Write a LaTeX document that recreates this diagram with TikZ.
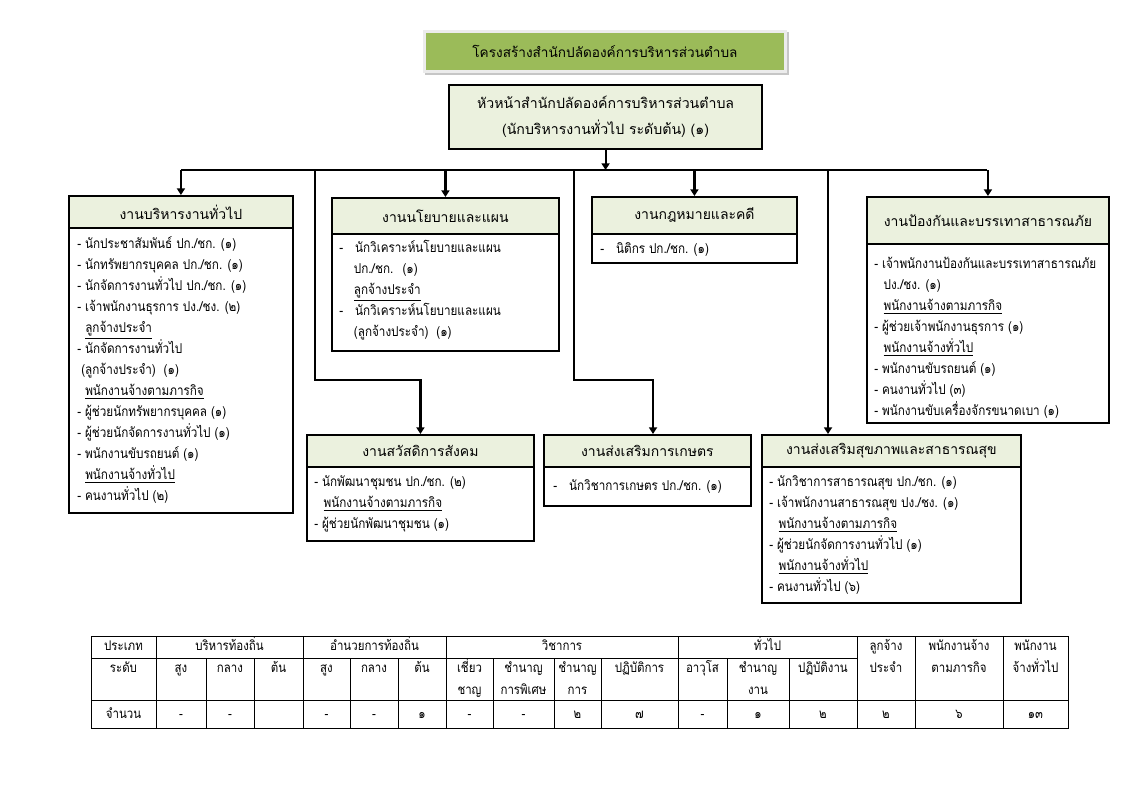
\documentclass[tikz,border=0pt]{standalone}
\usepackage{fontspec}
\newfontfamily\thaifont[Script=Thai]{Loma}
\newfontfamily\thainarrow[Script=Thai, FakeStretch=0.86]{Loma}
\usetikzlibrary{arrows.meta}
\definecolor{hdrgreen}{HTML}{EBF1DE}
\definecolor{titlegreen}{HTML}{9BBB59}
\newcommand\thul[1]{\underline{#1}}
\newcommand\orgbox[7]{%
  \node[bodyb, minimum width={(#4-#2)*0.75pt}, minimum height={(#6-#5)*0.75pt}] (#1b) at (#2,#5) {};
  \node[hdr, minimum width={(#4-#2)*0.75pt}, minimum height={(#5-#3)*0.75pt}] (#1) at (#2,#3) {#7};
}
\begin{document}
\begin{tikzpicture}[x=0.75pt,y=-0.75pt,
  hdr/.style={draw, line width=1.4pt, fill=hdrgreen, inner sep=0pt, anchor=north west, font=\thaifont\fontsize{10.5}{14}\selectfont},
  bodyb/.style={draw, line width=1.4pt, fill=white, inner sep=0pt, anchor=north west},
  btext/.style={anchor=north west, inner sep=0pt, align=left, font=\thainarrow\fontsize{10.2}{15.75}\selectfont},
  tcell/.style={anchor=base, inner sep=0pt, font=\thainarrow\fontsize{10}{12}\selectfont},
  conn/.style={line width=1.6pt},
  arr/.style={conn, -{Triangle[width=6pt,length=5pt]}},
  tline/.style={line width=0.6pt}]
\useasboundingbox (0,0) rectangle (1123,794);

% title
\fill[gray!45] (425,32) rectangle (789,75);
\node[draw=gray!15, line width=2.2pt, fill=titlegreen, anchor=north west, inner sep=0pt,
  minimum width={361*0.75pt}, minimum height={40*0.75pt},
  font=\thaifont\fontsize{10.2}{14}\selectfont] (title) at (423,30) {โครงสร้างสำนักปลัดองค์การบริหารส่วนตำบล};

% head
\node[draw, line width=1.6pt, fill=hdrgreen, anchor=north west, inner sep=0pt, align=center,
  minimum width={313*0.75pt}, minimum height={64*0.75pt},
  font=\thaifont\fontsize{10.6}{19.5}\selectfont] (head) at (448,84)
  {หัวหน้าสำนักปลัดองค์การบริหารส่วนตำบล\\(นักบริหารงานทั่วไป ระดับต้น) (๑)};

% boxes
\orgbox{h1}{68}{195}{292}{227}{512}{งานบริหารงานทั่วไป}
\orgbox{h2}{331}{197}{558}{233}{350}{งานนโยบายและแผน}
\orgbox{h3}{591}{196}{796}{233}{262}{งานกฎหมายและคดี}
\orgbox{h4}{866}{196}{1108}{243}{422}{งานป้องกันและบรรเทาสาธารณภัย}
\orgbox{h5}{306}{434}{533}{466}{540}{งานสวัสดิการสังคม}
\orgbox{h6}{543}{434}{750}{466}{505}{งานส่งเสริมการเกษตร}
\orgbox{h7}{761}{434}{1020}{466}{602}{งานส่งเสริมสุขภาพและสาธารณสุข}

% body texts
\node[btext] (t1) at (77,234) {\strut- นักประชาสัมพันธ์ ปก./ชก. (๑)\\
- นักทรัพยากรบุคคล ปก./ชก. (๑)\\
- นักจัดการงานทั่วไป ปก./ชก. (๑)\\
- เจ้าพนักงานธุรการ ปง./ชง. (๒)\\
\hspace*{6pt}\thul{ลูกจ้างประจำ}\\
- นักจัดการงานทั่วไป\\
\hspace*{3pt}(ลูกจ้างประจำ)~ (๑)\\
\hspace*{6pt}\thul{พนักงานจ้างตามภารกิจ}\\
- ผู้ช่วยนักทรัพยากรบุคคล (๑)\\
- ผู้ช่วยนักจัดการงานทั่วไป (๑)\\
- พนักงานขับรถยนต์ (๑)\\
\hspace*{6pt}\thul{พนักงานจ้างทั่วไป}\\
- คนงานทั่วไป (๒)};

\node[btext] (t2) at (339,238) {\strut-\hspace{9pt}นักวิเคราะห์นโยบายและแผน\\
\hspace*{11pt}ปก./ชก.~ (๑)\\
\hspace*{11pt}\thul{ลูกจ้างประจำ}\\
-\hspace{9pt}นักวิเคราะห์นโยบายและแผน\\
\hspace*{11pt}(ลูกจ้างประจำ)~ (๑)};

\node[btext] (t3) at (600,239) {\strut-\hspace{9pt}นิติกร ปก./ชก. (๑)};

\node[btext] (t4) at (874,254) {\strut- เจ้าพนักงานป้องกันและบรรเทาสาธารณภัย\\
\hspace*{7pt}ปง./ชง. (๑)\\
\hspace*{7pt}\thul{พนักงานจ้างตามภารกิจ}\\
- ผู้ช่วยเจ้าพนักงานธุรการ (๑)\\
\hspace*{7pt}\thul{พนักงานจ้างทั่วไป}\\
- พนักงานขับรถยนต์ (๑)\\
- คนงานทั่วไป (๓)\\
- พนักงานขับเครื่องจักรขนาดเบา (๑)};

\node[btext] (t5) at (314,472) {\strut- นักพัฒนาชุมชน ปก./ชก. (๒)\\
\hspace*{7pt}\thul{พนักงานจ้างตามภารกิจ}\\
- ผู้ช่วยนักพัฒนาชุมชน (๑)};

\node[btext] (t6) at (553,476) {\strut-\hspace{9pt}นักวิชาการเกษตร ปก./ชก. (๑)};

\node[btext] (t7) at (769,472) {\strut- นักวิชาการสาธารณสุข ปก./ชก. (๑)\\
- เจ้าพนักงานสาธารณสุข ปง./ชง. (๑)\\
\hspace*{7pt}\thul{พนักงานจ้างตามภารกิจ}\\
- ผู้ช่วยนักจัดการงานทั่วไป (๑)\\
\hspace*{7pt}\thul{พนักงานจ้างทั่วไป}\\
- คนงานทั่วไป (๖)};

% connectors
\coordinate (busL) at (181,170);
\coordinate (busR) at (987,170);
\coordinate (j5) at (315,170);
\coordinate (k5) at (315,380);
\coordinate (j6) at (574,170);
\coordinate (k6) at (653,380);
\coordinate (j7) at (828,170);
\draw[conn] (busL) -- (busR);
\draw[arr] (head.south) -- (head.south |- busL);
\draw[arr] (h1.north |- busL) -- (h1.north);
\draw[arr] (h2.north |- busL) -- (h2.north);
\draw[arr] (h3.north |- busL) -- (h3.north);
\draw[arr] (h4.north |- busL) -- (h4.north);
\draw[arr] (j5) -- (k5) -| (h5.north);
\draw[arr] (j6) |- (k6) -- (k6 |- h6.north);
\draw[arr] (j7) -- (j7 |- h7.north);

% table
\draw[tline] (91,636) rectangle (1068,728);
\draw[tline] (91,658) -- (857,658);
\draw[tline] (91,700) -- (1068,700);
\foreach \x in {156,303,446,678,857,915,1003}
  \draw[tline] (\x,636) -- (\x,728);
\foreach \x in {206,254,350,398,493,554,601,727,789}
  \draw[tline] (\x,658) -- (\x,728);

\foreach \x/\y/\t [count=\i] in {
 123.5/650/ประเภท, 229.5/650/บริหารท้องถิ่น, 374.5/650/อำนวยการท้องถิ่น, 562/650/วิชาการ, 767.5/650/ทั่วไป,
 886/650/ลูกจ้าง, 886/672/ประจำ, 959/650/พนักงานจ้าง, 959/672/ตามภารกิจ, 1035.5/650/พนักงาน, 1035.5/672/จ้างทั่วไป,
 123.5/672/ระดับ, 181/672/สูง, 230/672/กลาง, 278.5/672/ต้น, 326.5/672/สูง, 374/672/กลาง, 422/672/ต้น,
 469.5/672/เชี่ยว, 469.5/694/ชาญ, 523.5/672/ชำนาญ, 523.5/694/การพิเศษ, 577.5/672/ชำนาญ, 577.5/694/การ,
 639.5/672/ปฏิบัติการ, 702.5/672/อาวุโส, 758/672/ชำนาญ, 758/694/งาน, 823/672/ปฏิบัติงาน,
 123.5/718/จำนวน, 181/718/-, 230/718/-, 326.5/718/-, 374/718/-, 422/718/๑, 469.5/718/-, 523.5/718/-,
 577.5/718/๒, 639.5/718/๗, 702.5/718/-, 758/718/๑, 823/718/๒, 886/718/๒, 959/718/๖, 1035.5/718/๑๓}
  \node[tcell] (tc\i) at (\x,\y) {\t};
\end{tikzpicture}
\end{document}
